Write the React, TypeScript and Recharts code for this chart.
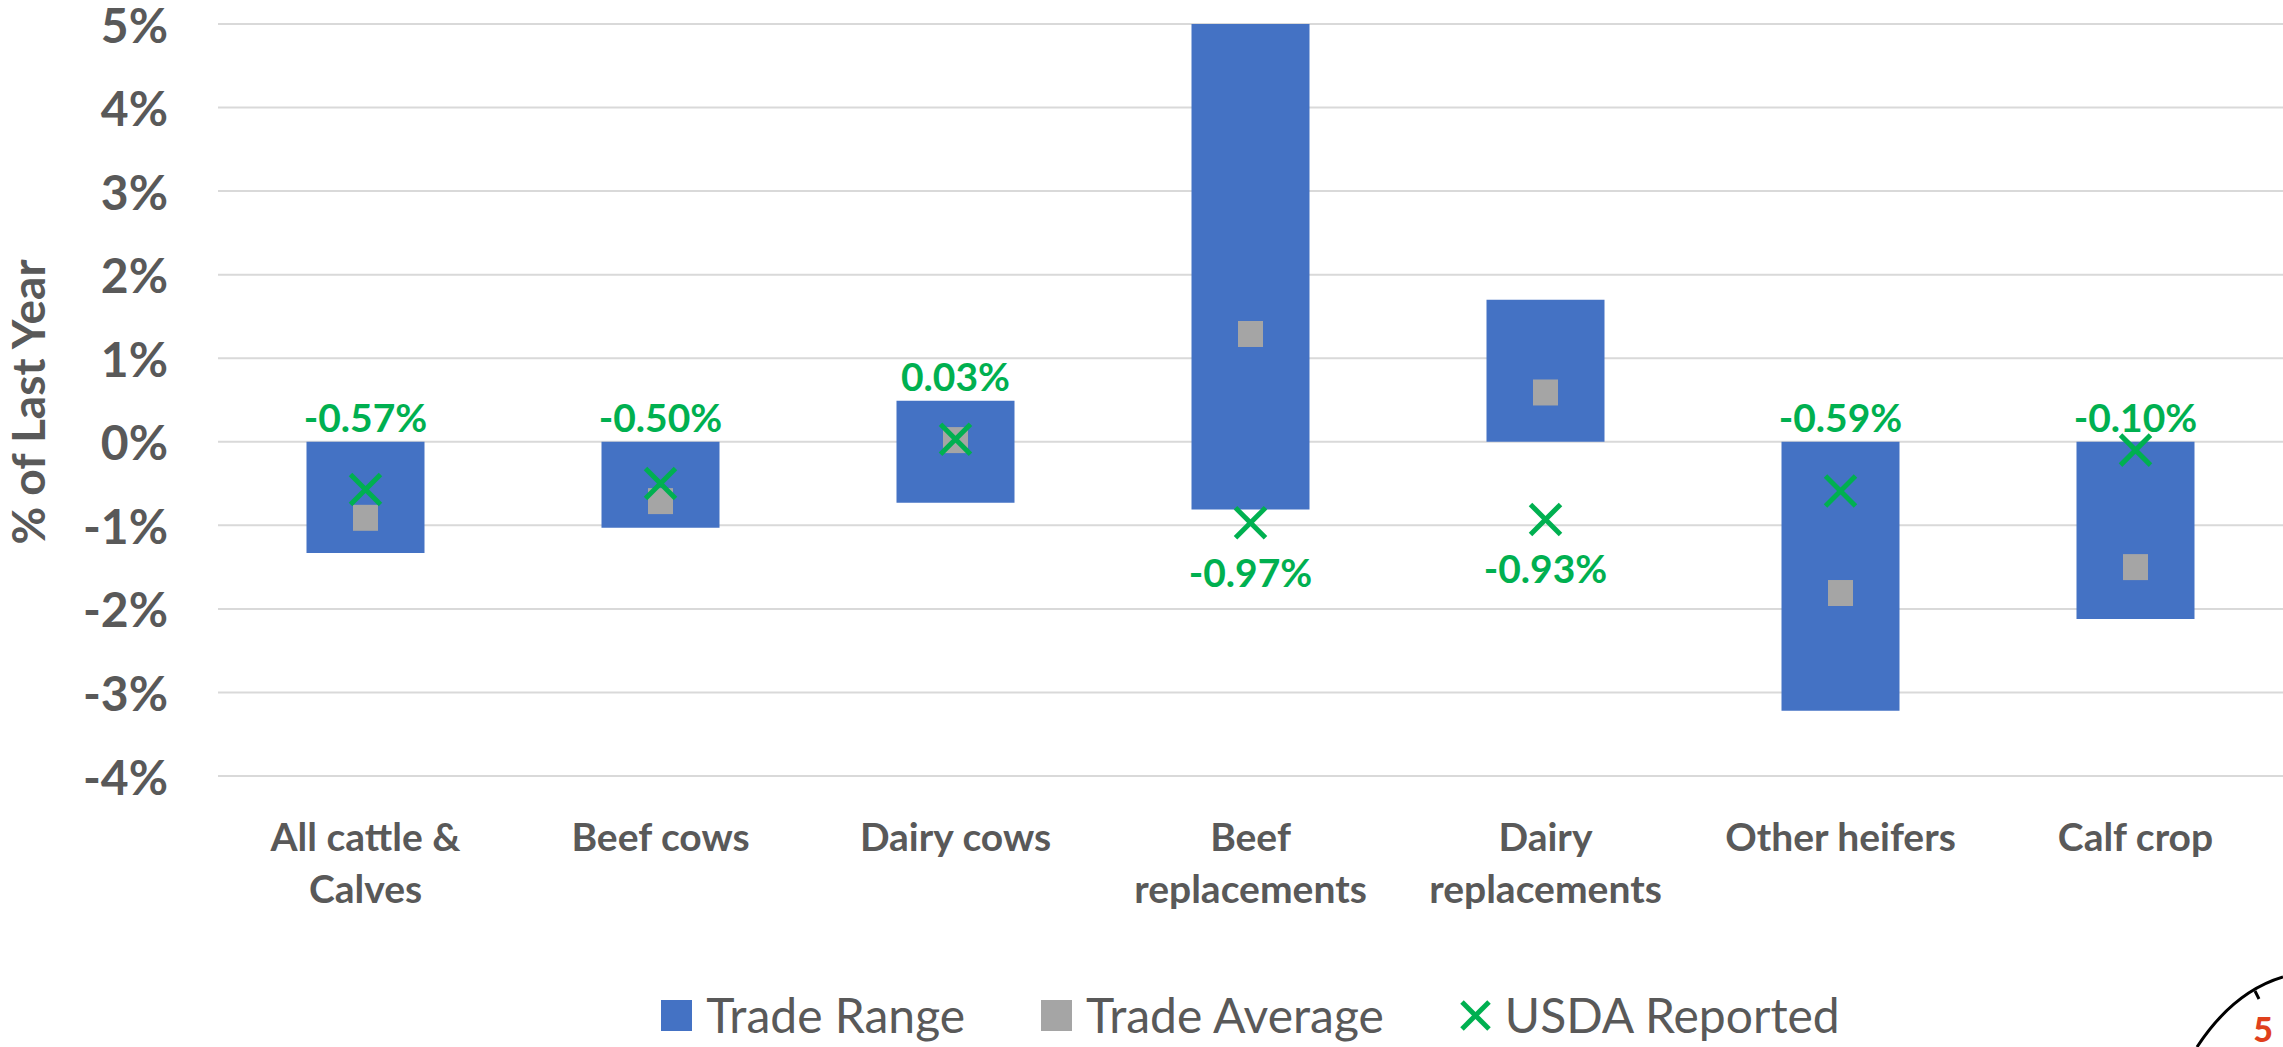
import React from "react";
import {
  ComposedChart,
  Bar,
  Scatter,
  XAxis,
  YAxis,
  CartesianGrid,
  Legend,
} from "recharts";

const categories = [
  "All cattle & Calves",
  "Beef cows",
  "Dairy cows",
  "Beef replacements",
  "Dairy replacements",
  "Other heifers",
  "Calf crop",
];
const rangeLow = [-1.33, -1.03, -0.73, -0.81, 0, -3.22, -2.12];
const rangeHigh = [0, 0, 0.49, 5, 1.7, 0, 0];
const tradeAverage = [-0.91, -0.71, 0.02, 1.29, 0.59, -1.81, -1.5];
const usdaReported = [-0.57, -0.5, 0.03, -0.97, -0.93, -0.59, -0.1];
const yTicks = [-4, -3, -2, -1, 0, 1, 2, 3, 4, 5];

const BLUE = "#4472c4";
const GREY = "#a5a5a5";
const GREEN = "#00b050";
const TEXT = "#595959";
const FONT = "Lato, 'Open Sans', sans-serif";

const data = categories.map((name, i) => {
  const below = usdaReported[i] < rangeLow[i];
  return {
    name,
    range: [rangeLow[i], rangeHigh[i]],
    avg: tradeAverage[i],
    usda: usdaReported[i],
    // where the value label hangs: above the bar, or under the marker
    labelAt: below ? usdaReported[i] : Math.max(rangeHigh[i], usdaReported[i]),
    below,
  };
});

// greedy wrap like Excel does for narrow category slots
const wrap = (s: string, max = 13) => {
  const lines: string[] = [];
  let cur = "";
  s.split(" ").forEach((w) => {
    const next = cur ? cur + " " + w : w;
    if (next.length > max && cur) {
      lines.push(cur);
      cur = w;
    } else cur = next;
  });
  if (cur) lines.push(cur);
  return lines;
};

const XTick = (props: any) => {
  const { x, y, payload } = props;
  const lines = wrap(payload.value);
  return (
    <text
      x={x}
      y={y}
      textAnchor="middle"
      fill={TEXT}
      fontFamily={FONT}
      fontWeight={700}
      fontSize={39}
    >
      {lines.map((l, i) => (
        <tspan key={i} x={x} dy={i === 0 ? 67 : 52}>
          {l}
        </tspan>
      ))}
    </text>
  );
};

const YTick = (props: any) => {
  const { x, y, payload } = props;
  return (
    <text
      x={x}
      y={y}
      textAnchor="end"
      dominantBaseline="central"
      fill={TEXT}
      fontFamily={FONT}
      fontWeight={700}
      fontSize={48}
    >
      {payload.value}%
    </text>
  );
};

const YTitle = (props: any) => {
  const { viewBox } = props;
  const cy = viewBox.y + viewBox.height / 2 + 2;
  return (
    <text
      x={27}
      y={cy}
      transform={`rotate(-90, 27, ${cy})`}
      textAnchor="middle"
      dominantBaseline="central"
      fill={TEXT}
      fontFamily={FONT}
      fontWeight={700}
      fontSize={46}
    >
      % of Last Year
    </text>
  );
};

const Square = (props: any) => {
  const { cx, cy } = props;
  return <rect x={cx - 12.5} y={cy - 13} width={25} height={26} fill={GREY} />;
};

const Cross = (props: any) => {
  const { cx, cy } = props;
  const h = 15;
  return (
    <g stroke={GREEN} strokeWidth={5}>
      <line x1={cx - h} y1={cy - h} x2={cx + h} y2={cy + h} />
      <line x1={cx - h} y1={cy + h} x2={cx + h} y2={cy - h} />
    </g>
  );
};

const ValueLabel = (props: any) => {
  const { cx, cy, payload } = props;
  const y = payload.below ? cy + 64 : cy - 10;
  return (
    <text
      x={cx}
      y={y}
      textAnchor="middle"
      fill={GREEN}
      fontFamily={FONT}
      fontWeight={700}
      fontSize={39}
    >
      {payload.usda.toFixed(2)}%
    </text>
  );
};

const LegendBox = () => {
  const item = (icon: React.ReactNode, text: string, gap: number) => (
    <div style={{ display: "flex", alignItems: "center", marginRight: gap }}>
      {icon}
      <span style={{ marginLeft: 14 }}>{text}</span>
    </div>
  );
  return (
    <div
      style={{
        display: "flex",
        justifyContent: "center",
        alignItems: "center",
        fontFamily: FONT,
        fontSize: 48,
        color: TEXT,
        lineHeight: "60px",
      }}
    >
      {item(<div style={{ width: 31, height: 31, background: BLUE }} />, "Trade Range", 76)}
      {item(<div style={{ width: 31, height: 31, background: GREY }} />, "Trade Average", 76)}
      {item(
        <svg width={31} height={31}>
          <g stroke={GREEN} strokeWidth={5}>
            <line x1={2} y1={2} x2={29} y2={29} />
            <line x1={2} y1={29} x2={29} y2={2} />
          </g>
        </svg>,
        "USDA Reported",
        0
      )}
    </div>
  );
};

export default function App() {
  return (
    <div style={{ position: "fixed", left: 0, top: 0, width: 2283, height: 1047, background: "#fff" }}>
      <ComposedChart
        width={2283}
        height={1047}
        data={data}
        margin={{ top: 24, right: 0, bottom: 0, left: 0 }}
        barCategoryGap="30%"
      >
        <CartesianGrid vertical={false} stroke="#d9d9d9" strokeWidth={2} />
        <XAxis
          dataKey="name"
          axisLine={false}
          tickLine={false}
          interval={0}
          tick={<XTick />}
          height={271}
        />
        <YAxis
          width={218}
          domain={[-4, 5]}
          ticks={yTicks}
          allowDataOverflow
          axisLine={false}
          tickLine={false}
          tickMargin={44}
          tick={<YTick />}
          label={<YTitle />}
        />
        <Legend
          layout="horizontal"
          verticalAlign="middle"
          align="center"
          wrapperStyle={{ top: 985, left: 218, width: 2065 }}
          content={() => <LegendBox />}
        />
        <Bar dataKey="range" fill={BLUE} isAnimationActive={false} />
        <Scatter dataKey="avg" shape={<Square />} isAnimationActive={false} />
        <Scatter dataKey="usda" shape={<Cross />} isAnimationActive={false} />
        <Scatter dataKey="labelAt" shape={<ValueLabel />} isAnimationActive={false} legendType="none" />
      </ComposedChart>
      <svg
        width={100}
        height={80}
        style={{ position: "absolute", right: 0, bottom: 0 }}
      >
        <path d="M 14 80 Q 50 25 100 10" fill="none" stroke="#000" strokeWidth={3} />
        <line x1={72} y1={24} x2={76} y2={32} stroke="#000" strokeWidth={3} />
        <text x={80} y={75} textAnchor="middle" fill="#e0401c" fontFamily={FONT} fontWeight={900} fontSize={34}>
          5
        </text>
      </svg>
    </div>
  );
}
